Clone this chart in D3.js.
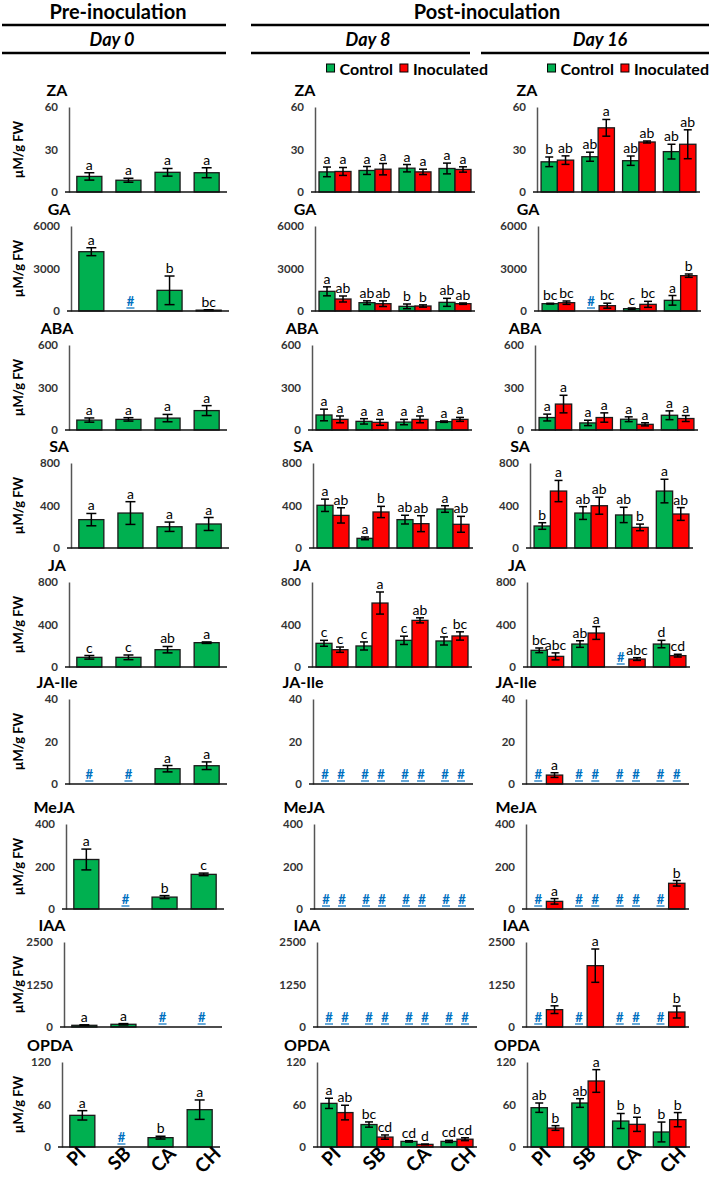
<!DOCTYPE html>
<html><head><meta charset="utf-8">
<script src="https://cdn.jsdelivr.net/npm/d3@7"></script>
<style>body{margin:0;background:#fff} svg{display:block} text{font-family:Lato,"Open Sans",sans-serif}</style>
</head><body><svg id="c" width="710" height="1178"></svg>
<script>
// ---------------- DATA ----------------
const hormones = ["ZA","GA","ABA","SA","JA","JA-Ile","MeJA","IAA","OPDA"];
const yMax = [60,6000,600,800,800,40,400,2500,120];
const yTicks = [[0,30,60],[0,3000,6000],[0,300,600],[0,400,800],[0,400,800],[0,20,40],[0,200,400],[0,1250,2500],[0,60,120]];
const sites = ["PI","SB","CA","CH"];
const seriesNames = ["Control","Inoculated"];
const yLabel = "µM/g FW";
// null = not detected (#)
const d0Mean = [[11,8.3,13.9,13.6],[4186,null,1459,60],[70,75,84,137],[267,329,200,226],[91,91,163,229],[null,null,7.2,8.6],[233,null,56,163],[50,80,null,null],[44.7,null,13.2,52.7]];
const d0Err  = [[2.6,1.4,2.7,3.5],[280,0,1010,30],[15,12,26,35],[58,107,44,61],[17,22,30,7],[0,0,1.5,1.8],[49,0,7,6],[15,20,0,0],[6.6,0,2,13.7]];
const d0Let  = [["a","a","a","a"],["a","#","b","bc"],["a","a","a","a"],["a","a","a","a"],["c","c","ab","a"],["#","#","a","a"],["a","#","b","c"],["a","a","#","#"],["a","#","b","a"]];

const d8CtlMean = [[14.2,15.2,16.8,16.6],[1388,588,329,611],[106,61,56,59],[402,91,267,367],[223,198,251,245],[null,null,null,null],[null,null,null,null],[null,null,null,null],[61.6,31.7,7.9,7.9]];
const d8CtlErr  = [[3.4,2.8,2.6,3.8],[317,130,165,282],[41,19,19,5],[58,13,41,31],[28,38,39,38],[0,0,0,0],[0,0,0,0],[0,0,0,0],[7.2,3.7,1,1.5]];
const d8CtlLet  = [["a","a","a","a"],["a","ab","b","ab"],["a","a","a","a"],["a","a","ab","a"],["c","c","c","c"],["#","#","#","#"],["#","#","#","#"],["#","#","#","#"],["a","bc","cd","cd"]];
const d8InoMean = [[14.5,16.1,14.2,15.9],[847,517,353,517],[75,54,75,75],[307,339,229,223],[163,602,439,292],[null,null,null,null],[null,null,null,null],[null,null,null,null],[48.6,14,3.7,11]];
const d8InoErr  = [[2.8,4.0,1.9,1.9],[212,200,80,50],[24,21,24,14],[72,53,75,75],[25,104,24,39],[0,0,0,0],[0,0,0,0],[0,0,0,0],[10.3,3,0.5,2]];
const d8InoLet  = [["a","a","a","a"],["ab","ab","b","ab"],["a","a","a","a"],["ab","b","ab","ab"],["c","a","ab","bc"],["#","#","#","#"],["#","#","#","#"],["#","#","#","#"],["ab","cd","d","cd"]];

const d16CtlMean = [[21.3,24.9,22.1,28.5],[518,null,165,753],[88,50,76,104],[207,329,311,536],[157,216,null,216],[null,null,null,null],[null,null,null,null],[null,null,null,null],[55.5,62.1,36.7,21.2]];
const d16CtlErr  = [[3.4,3.2,3.3,5.2],[30,0,50,340],[24,19,17,31],[31,60,72,111],[22,31,0,35],[0,0,0,0],[0,0,0,0],[0,0,0,0],[6.6,6.1,10.6,14]];
const d16CtlLet  = [["b","ab","ab","ab"],["bc","#","c","a"],["a","a","a","a"],["b","ab","ab","a"],["bc","ab","#","d"],["#","#","#","#"],["#","#","#","#"],["#","#","#","#"],["ab","ab","b","b"]];
const d16InoMean = [[22.5,45.3,35.3,33.7],[588,376,470,2494],[183,88,40,81],[536,398,194,320],[100,320,75,107],[4.2,null,null,null],[36,null,null,121],[510,1804,null,441],[26.8,93.2,32,38.6]];
const d16InoErr  = [[3,5.9,0.7,10.2],[118,176,212,118],[62,33,11,21],[100,80,31,60],[33,60,13,13],[1.1,0,0,0],[13,0,0,13],[113,490,0,176],[3.3,16,10,10]];
const d16InoLet  = [["ab","a","ab","ab"],["bc","bc","bc","b"],["a","a","a","a"],["a","ab","b","ab"],["abc","a","abc","cd"],["a","#","#","#"],["a","#","#","b"],["b","a","#","b"],["b","a","b","b"]];

// ---------------- LAYOUT ----------------
const colors = {Control:"#00B050", Inoculated:"#FF0000"};
const rowTop = [107,226,345,463,582,699,824,942,1062];
const plotH = 85;
const cols = [
  {axisX:[69,71,69,71,69,69,66,64,62], width:158, pin:0.36, pout:0.2, cap:5,
   series:[{name:"Control", mean:d0Mean, err:d0Err, lab:d0Let}]},
  {axisX:[315,315,312,313,312,313,314,317,317], width:160, pin:0.2, pout:0.1, cap:4,
   series:[{name:"Control", mean:d8CtlMean, err:d8CtlErr, lab:d8CtlLet},{name:"Inoculated", mean:d8InoMean, err:d8InoErr, lab:d8InoLet}]},
  {axisX:[537,538,535,530,527,526,526,526,527], width:163, pin:0.2, pout:0.1, cap:4,
   series:[{name:"Control", mean:d16CtlMean, err:d16CtlErr, lab:d16CtlLet},{name:"Inoculated", mean:d16InoMean, err:d16InoErr, lab:d16InoLet}]}
];

const svg = d3.select("#c");

// ---------------- HEADER ----------------
const hdr = svg.append("g");
hdr.append("text").attr("x",118).attr("y",19).attr("text-anchor","middle").attr("font-weight","bold").attr("font-size",20).text("Pre-inoculation");
hdr.append("text").attr("x",487).attr("y",19).attr("text-anchor","middle").attr("font-weight","bold").attr("font-size",20).text("Post-inoculation");
[[2,226,25],[251,709,25],[2,226,53],[251,470,53],[481,709,53]].forEach(([a,b,yy])=>{
  hdr.append("line").attr("x1",a).attr("x2",b).attr("y1",yy).attr("y2",yy).attr("stroke","#000").attr("stroke-width",2.5);
});
[["Day 0",112],["Day 8",368],["Day 16",600]].forEach(([t,x])=>{
  hdr.append("text").attr("x",x).attr("y",46).attr("text-anchor","middle").attr("font-weight","bold").attr("font-style","italic").attr("font-size",18).text(t);
});

// Legends
[488,709].forEach(right=>{
  const g = svg.append("g");
  let x = 0;
  seriesNames.forEach(n=>{
    g.append("rect").attr("x",x).attr("y",-5).attr("width",8).attr("height",8).attr("fill",colors[n]).attr("stroke","#000").attr("stroke-width",1);
    x += 13;
    const t = g.append("text").attr("x",x).attr("y",0).attr("dy","0.35em").attr("font-weight","bold").attr("font-size",16).text(n);
    x += t.node().getComputedTextLength() + 7;
  });
  const total = x - 7;
  g.attr("transform",`translate(${right-total},69)`);
});

// ---------------- PANELS ----------------
cols.forEach((col,ci)=>{
  hormones.forEach((h,ri)=>{
    const ax = col.axisX[ri];
    const g = svg.append("g");
    const x0 = d3.scaleBand().domain(sites).range([ax, ax+col.width]).paddingInner(col.pin).paddingOuter(col.pout);
    const x1 = d3.scaleBand().domain(col.series.map(s=>s.name)).range([0, x0.bandwidth()]);
    const y = d3.scaleLinear().domain([0,yMax[ri]]).range([rowTop[ri]+plotH, rowTop[ri]]);
    const base = y(0);

    // title
    g.append("text").attr("x", ax - (ci===0?12:10)).attr("y", rowTop[ri]-11).attr("text-anchor","middle")
      .attr("font-weight","bold").attr("font-size",16).text(h);

    // y axis
    const yAx = g.append("g").attr("transform",`translate(${ax},0)`)
      .call(d3.axisLeft(y).tickValues(yTicks[ri]).tickSize(0).tickSizeOuter(0).tickPadding(11).tickFormat(d3.format("d")));
    yAx.select(".domain").attr("stroke","#555").attr("stroke-width",1.5);
    yAx.selectAll("text").attr("font-family","Lato").attr("font-weight","bold").attr("font-size",11.5).attr("fill","#333");

    if(ci===0){
      g.append("text").attr("transform",`translate(18,${rowTop[ri]+plotH/2}) rotate(-90)`).attr("text-anchor","middle")
        .attr("dy","0.35em").attr("font-weight","bold").attr("font-size",13).text(yLabel);
    }

    // bars
    col.series.forEach(s=>{
      sites.forEach((site,si)=>{
        const v = s.mean[ri][si];
        const cx = x0(site) + x1(s.name) + x1.bandwidth()/2;
        if(v===null){
          g.append("text").attr("x",cx).attr("y",base-5).attr("text-anchor","middle").attr("font-weight","bold")
            .attr("font-size",13).attr("fill","#0070C0").text("#");
          g.append("line").attr("x1",cx-4).attr("x2",cx+4).attr("y1",base-3).attr("y2",base-3).attr("stroke","#0070C0").attr("stroke-width",1.2);
          return;
        }
        g.append("rect").attr("x",x0(site)+x1(s.name)).attr("y",y(v)).attr("width",x1.bandwidth()).attr("height",base-y(v))
          .attr("fill",colors[s.name]).attr("stroke","#1a1a1a").attr("stroke-width",1.3);
        const e = s.err[ri][si];
        const top = y(v+e), bot = y(Math.max(0,v-e));
        g.append("line").attr("x1",cx).attr("x2",cx).attr("y1",top).attr("y2",bot).attr("stroke","#000").attr("stroke-width",1.5);
        [top,bot].forEach(yy=>g.append("line").attr("x1",cx-col.cap).attr("x2",cx+col.cap).attr("y1",yy).attr("y2",yy).attr("stroke","#000").attr("stroke-width",1.5));
        g.append("text").attr("x",cx).attr("y",top-3).attr("text-anchor","middle").attr("font-size",14).attr("fill","#000").text(s.lab[ri][si]);
      });
    });

    // baseline
    g.append("line").attr("x1",ax-4).attr("x2",ax+col.width).attr("y1",base).attr("y2",base).attr("stroke","#111").attr("stroke-width",1.5);

    // x labels on bottom row
    if(ri===hormones.length-1){
      const xl = d3.scalePoint().domain(sites).range([ax+25, ax+160]);
      sites.forEach(site=>{
        g.append("text").attr("transform",`translate(${xl(site)},${base+8}) rotate(-45)`).attr("text-anchor","end")
          .attr("font-weight","bold").attr("font-size",19).text(site);
      });
    }
  });
});
</script></body></html>
